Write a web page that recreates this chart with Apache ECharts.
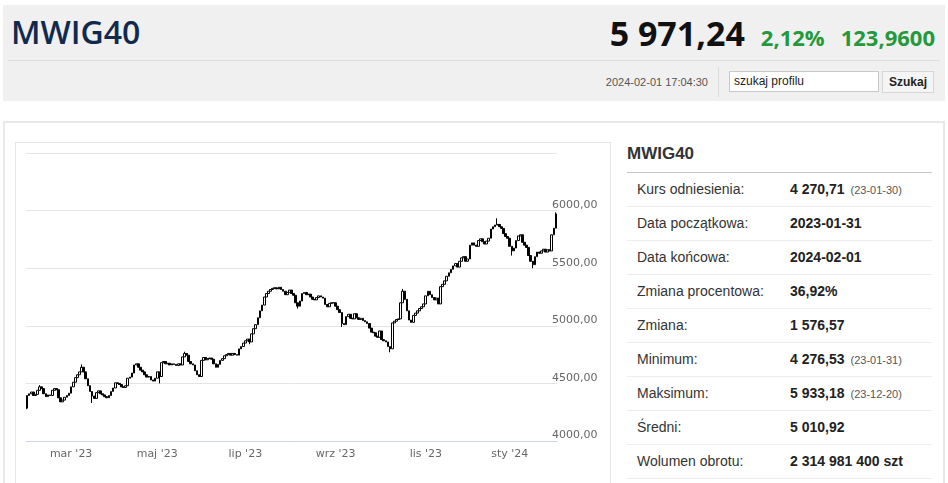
<!DOCTYPE html>
<html><head><meta charset="utf-8">
<script src="https://cdn.jsdelivr.net/npm/echarts@6/dist/echarts.min.js"></script>
<style>
body{margin:0;width:948px;height:483px;overflow:hidden;background:#fff;font-family:"Liberation Sans",Arial,sans-serif;position:relative}
div{box-sizing:border-box}
.abs{position:absolute}
.hdr{left:3px;top:5px;width:942px;height:96px;background:#f0f0f0}
.ttl{left:11px;top:16px;font:600 32px/32px "Open Sans";color:#102a4e;white-space:nowrap}
.price{right:13px;top:16px;display:flex;align-items:baseline;gap:16px;font-family:"Open Sans";font-weight:700;white-space:nowrap}
.price .big{font-size:34px;line-height:34px;color:#111}
.price .g{font-size:22px;line-height:22px;color:#23993b}
.sep{left:8px;top:60px;width:932px;height:1px;background:#dcdcdc}
.ts{right:240px;top:76px;font-size:11px;line-height:13px;color:#555;white-space:nowrap}
.vsep{left:718px;top:67px;width:1px;height:30px;background:#dcdcdc}
.inp{left:729px;top:71px;width:150px;height:21px;border:1px solid #c9c9c9;background:#fff;font-size:12px;line-height:19px;padding-left:4px;color:#222}
.btn{left:882px;top:71px;width:52px;height:22px;background:#f5f5f5;border:1px solid #d6d6d6;font-weight:700;font-size:12px;line-height:20px;text-align:center;color:#222}
.panel{left:3px;top:121px;width:942px;height:380px;border:2px solid #e8e8e8}
.cbox{left:15px;top:142px;width:596px;height:360px;border:1px solid #e6e6e6}
.tt{left:627px;top:144px;font-weight:700;font-size:17px;line-height:20px;color:#333}
.tline{left:627px;top:172px;width:305px;height:1px;background:#c6c6c6}
.row{left:627px;width:305px;height:34px;border-bottom:1px solid #ededed;font-size:14px;line-height:33px;color:#333}
.row .l{position:absolute;left:10px;top:0}
.row .v{position:absolute;left:163px;top:0;font-weight:700;color:#222;white-space:nowrap}
.row .v small{font-weight:400;font-size:11px;color:#555;margin-left:6px}
</style></head>
<body>
<div class="abs hdr"></div>
<div class="abs ttl">MWIG40</div>
<div class="abs price"><span class="big">5 971,24</span><span class="g">2,12%</span><span class="g">123,9600</span></div>
<div class="abs sep"></div>
<div class="abs ts">2024-02-01 17:04:30</div>
<div class="abs vsep"></div>
<div class="abs inp">szukaj profilu</div>
<div class="abs btn">Szukaj</div>
<div class="abs panel"></div>
<div class="abs cbox"></div>
<div class="abs" id="c" style="left:15px;top:143px;width:595px;height:340px"></div>
<div class="abs tt">MWIG40</div>
<div class="abs tline"></div>
<div id="tbl"></div>
<script>
// ---- data ----
const holidays = ['2023-04-07','2023-04-10','2023-05-01','2023-05-03','2023-06-08','2023-08-15','2023-11-01','2023-12-25','2023-12-26','2024-01-01'];
const startDate = '2023-01-31', endDate = '2024-02-01';
const firstOpen = 4285;
const closes = [
4395,
4410,4425,4395,4405,4440,4470,4455,4410,4385,4400,4395,4440,4455,4445,4375,4340,4355,4380,4395,4415,
4470,4510,4550,4575,4600,4640,4600,4540,4480,4430,4390,4370,4420,4435,4410,4400,4385,4375,4395,4430,4460,4505,4500,
4490,4470,4465,4480,4545,4555,4590,4660,4670,4640,4615,4600,4575,4555,4560,4530,4520,4545,
4600,4560,4680,4690,4670,4675,4660,4670,4665,4655,4670,4660,4730,4760,4745,4690,4670,4660,4610,4575,4560,
4700,4725,4705,4715,4720,4710,4670,4640,4665,4700,4715,4740,4750,4760,4745,4760,4750,4745,4800,4820,4850,
4870,4885,4860,4930,4975,5010,5070,5130,5180,5250,5280,5300,5315,5325,5330,5320,5335,5315,5300,5270,5290,
5310,5280,5265,5200,5170,5215,5280,5290,5270,5275,5250,5230,5225,5245,5260,5250,5240,5185,5165,5195,5200,5200,
5170,5140,5115,5020,5010,5080,5100,5065,5060,5105,5070,5055,5065,5045,5035,5020,4980,4945,4940,4910,4900,
4955,4880,4870,4860,4820,4800,5025,5040,5055,5060,5200,5300,5230,5130,5050,5030,5090,5110,5130,5150,5165,5190,
5260,5300,5270,5245,5225,5240,5190,5340,5360,5390,5430,5460,5490,5520,5540,5510,5560,5590,5600,5560,5580,
5700,5720,5700,5690,5740,5755,5730,5710,5735,5760,5840,5860,5875,5880,5860,5845,5800,5775,5760,
5690,5650,5675,5740,5780,5790,5725,5700,5680,5610,5560,5530,5600,5640,5630,5650,5665,5640,5660,5650,5790,5847.28,
5971.24
];
// visible wick extremes: [index, value]
const wickLows = [[0,4276.53],[31,4330],[63,4500],[106,4840],[129,5150],[150,4990],[173,4770],[231,5610],[241,5500]];
const wickHighs = [[6,4485],[26,4665],[75,4775],[179,5320],[224,5933.18],[252,5985]];
const monthNames = ['sty','lut','mar','kwi','maj','cze','lip','sie','wrz','paź','lis','gru'];
const yTicks = {min:4000, max:6500, step:500};
const tableRows = [
 ['Kurs odniesienia:','4 270,71','(23-01-30)'],
 ['Data początkowa:','2023-01-31',''],
 ['Data końcowa:','2024-02-01',''],
 ['Zmiana procentowa:','36,92%',''],
 ['Zmiana:','1 576,57',''],
 ['Minimum:','4 276,53','(23-01-31)'],
 ['Maksimum:','5 933,18','(23-12-20)'],
 ['Średni:','5 010,92',''],
 ['Wolumen obrotu:','2 314 981 400 szt','']
];

// ---- trading calendar ----
const dates = [];
{
  let d = new Date(startDate+'T00:00:00Z'); const e = new Date(endDate+'T00:00:00Z');
  while (d <= e) {
    const s = d.toISOString().slice(0,10), wd = d.getUTCDay();
    if (wd !== 0 && wd !== 6 && holidays.indexOf(s) < 0) dates.push(s);
    d = new Date(d.getTime()+86400000);
  }
}
const lowMap = new Map(wickLows), highMap = new Map(wickHighs);
const candles = closes.map((c,i)=>{
  const o = i===0 ? firstOpen : closes[i-1];
  const lo = lowMap.has(i) ? lowMap.get(i) : Math.min(o,c);
  const hi = highMap.has(i) ? highMap.get(i) : Math.max(o,c);
  return [o,c,lo,hi];
});
const tickSet = new Set();
for (let i=1;i<dates.length;i++){
  const m = +dates[i].slice(5,7);
  if (dates[i].slice(5,7)!==dates[i-1].slice(5,7) && m%2===1) tickSet.add(i);
}

// ---- table ----
const tbl = document.getElementById('tbl');
tableRows.forEach((r,k)=>{
  const el = document.createElement('div');
  el.className='abs row'; el.style.top=(173+34*k)+'px';
  el.innerHTML='<span class="l">'+r[0]+'</span><span class="v">'+r[1]+(r[2]?'<small>'+r[2]+'</small>':'')+'</span>';
  tbl.appendChild(el);
});

// ---- chart ----
const chart = echarts.init(document.getElementById('c'));
chart.setOption({
  animation:false,
  grid:{left:11,right:53,top:10,bottom:42},
  xAxis:{type:'category',data:dates,boundaryGap:true,
    axisLine:{lineStyle:{color:'#ccd6eb'}},
    axisTick:{interval:(i)=>tickSet.has(i),alignWithLabel:true,length:8,lineStyle:{color:'#ccd6eb'}},
    axisLabel:{interval:(i)=>tickSet.has(i),margin:8,color:'#666',fontSize:11,fontFamily:'DejaVu Sans',
      formatter:(v)=>monthNames[+v.slice(5,7)-1]+" '"+v.slice(2,4)},
    splitLine:{show:false}},
  yAxis:{type:'value',position:'right',min:yTicks.min,max:yTicks.max,interval:yTicks.step,
    axisLine:{show:false},axisTick:{show:false},
    splitLine:{lineStyle:{color:'#e4e4e4',width:1}},
    axisLabel:{showMaxLabel:false,margin:-5,align:'left',verticalAlign:'bottom',color:'#666',fontSize:11,fontFamily:'DejaVu Sans',
      formatter:(v)=>v===yTicks.max?'':v.toFixed(2).replace('.',',')}},
  series:[{type:'candlestick',data:candles,barWidth:2.2,
    itemStyle:{color:'#ffffff',color0:'#000000',borderColor:'#000000',borderColor0:'#000000',borderWidth:1}}]
});
</script>
</body></html>
